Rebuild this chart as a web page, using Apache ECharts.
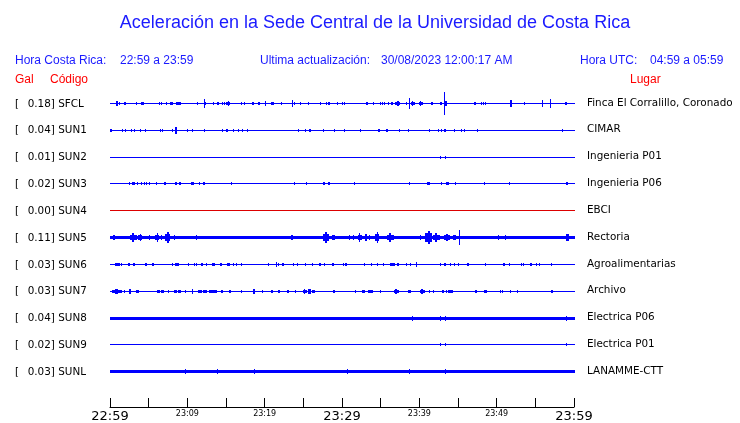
<!DOCTYPE html>
<html><head><meta charset="utf-8">
<script src="https://cdn.jsdelivr.net/npm/echarts@6/dist/echarts.min.js"></script>
<style>html,body{margin:0;padding:0;background:#fff}#c{width:740px;height:423px}</style>
</head><body><div id="c"></div>
<script>
// ---------- data ----------
const codes = ['SFCL','SUN1','SUN2','SUN3','SUN4','SUN5','SUN6','SUN7','SUN8','SUN9','SUNL'];
const places = ['Finca El Corralillo, Coronado','CIMAR','Ingenieria P01','Ingenieria P06','EBCI','Rectoria','Agroalimentarias','Archivo','Electrica P06','Electrica P01','LANAMME-CTT'];
const peakGal = ['0.18','0.04','0.01','0.02','0.00','0.11','0.03','0.03','0.04','0.02','0.03'];
// background noise band (Gal, half width) of each trace
const noiseGal = [0,0,0,0,0,0.02,0,0,0.02,0,0.02];
// x tick labels every 10 minutes starting 22:59
const tickLabels = ['22:59','23:09','23:19','23:29','23:39','23:49','23:59'];
const header = {
  title: 'Aceleración en la Sede Central de la Universidad de Costa Rica',
  crLabel: 'Hora Costa Rica:', crRange: '22:59 a 23:59',
  updLabel: 'Ultima actualización:', updValue: '30/08/2023 12:00:17 AM',
  utcLabel: 'Hora UTC:', utcRange: '04:59 a 05:59',
  gal: 'Gal', code: 'Código', place: 'Lugar'
};
// events: [minutes after 22:59, peak acceleration (Gal), duration (minutes)]
const sfcl = [[0.87,0.03,0.3],[1.29,0.02,0.13],[1.94,0.02,0.2],[3.45,0.02,0.13],[4.2,0.025,0.4],[6.38,0.02,0.13],[6.68,0.015,0.13],[7.33,0.02,0.13],[7.98,0.025,0.45],[8.84,0.025,0.7],[11.34,0.02,0.13],[12.19,0.07,0.13],[12.41,0.02,0.13],[13.36,0.02,0.13],[14.05,0.025,0.3],[14.52,0.015,0.13],[14.78,0.015,0.13],[15.26,0.03,0.52],[17.03,0.02,0.13],[17.37,0.02,0.13],[18.53,0.025,0.3],[19.27,0.025,0.3],[20.09,0.03,0.13],[20.99,0.025,0.4],[22.2,0.015,0.13],[23.58,0.045,0.13],[23.84,0.015,0.13],[24.66,0.02,0.13],[25.73,0.015,0.13],[27.16,0.02,0.13],[28.02,0.015,0.13],[28.32,0.025,0.3],[29.44,0.02,0.13],[30.09,0.02,0.13],[30.30,0.02,0.13],
  [33.3,0.025,0.3],[34.05,0.015,0.13],[35.0,0.02,0.13],[35.26,0.02,0.13],[35.56,0.02,0.13],[36.03,0.02,0.13],[36.47,0.02,0.2],[37.2,0.03,0.7],[38.37,0.02,0.13],[38.7,0.075,0.13],[39.18,0.04,0.52],[40.2,0.04,0.5],[41.72,0.025,0.3],[42.76,0.025,0.3],[43.23,0.18,0.13],[43.45,0.04,0.3],[47.2,0.025,0.3],[48.07,0.02,0.13],[48.27,0.02,0.13],[48.53,0.02,0.13],[51.81,0.045,0.3],[53.57,0.015,0.13],[55.9,0.055,0.13],[56.94,0.07,0.13],[58.97,0.025,0.3]];
const sun1 = [[0.09,0.025,0.3],[1.59,0.02,0.13],[2.03,0.02,0.13],[2.81,0.02,0.13],[3.23,0.015,0.13],[3.97,0.02,0.13],[4.62,0.02,0.13],[6.47,0.02,0.13],[6.77,0.02,0.13],[8.1,0.015,0.13],[8.53,0.045,0.3],[10.04,0.02,0.13],[10.64,0.02,0.13],[12.28,0.015,0.13],[14.52,0.02,0.13],[15.13,0.025,0.3],[15.99,0.015,0.13],[16.59,0.02,0.13],[17.16,0.02,0.13],[17.8,0.015,0.13],[24.35,0.02,0.13],[25.26,0.02,0.13],[25.82,0.025,0.3],[27.58,0.02,0.13],[29.0,0.015,0.13],[30.3,0.015,0.13],[32.42,0.02,0.13],[34.78,0.025,0.3],[35.82,0.025,0.3],[37.41,0.015,0.13],[38.57,0.02,0.13],[41.29,0.015,0.13],[42.49,0.02,0.13],[42.88,0.02,0.13],[43.32,0.025,0.3],[44.52,0.015,0.13],[45.48,0.02,0.13],[45.82,0.02,0.13],[47.5,0.02,0.13],[58.49,0.02,0.13]];
const sun2 = [[42.80,0.015,0.13],[43.41,0.015,0.13]];
const sun3 = [[2.50,0.015,0.13],[3.01,0.025,0.45],[3.58,0.02,0.13],[4.10,0.015,0.13],[4.44,0.015,0.13],[4.75,0.015,0.13],[5.17,0.015,0.13],[6.04,0.015,0.13],[7.10,0.02,0.3],[8.59,0.02,0.3],[9.05,0.02,0.3],[10.71,0.02,0.35],[11.55,0.015,0.13],[12.19,0.02,0.3],[15.74,0.015,0.13],[23.83,0.015,0.13],[25.43,0.015,0.13],[27.58,0.015,0.13],[27.80,0.015,0.13],[28.23,0.02,0.2],[31.59,0.015,0.13],[38.79,0.015,0.13],[41.16,0.02,0.4],[42.88,0.015,0.13],[43.60,0.02,0.35],[44.74,0.015,0.13],[48.40,0.015,0.13],[51.72,0.015,0.13],[59.06,0.02,0.3]];
const sun4 = [];
const sun5 = [[0.56,0.035,0.3],[3.0,0.065,0.86],[3.92,0.045,0.5],[5.08,0.03,0.13],[6.08,0.065,0.5],[6.6,0.03,0.13],[7.44,0.08,0.65],[8.28,0.03,0.13],[11.21,0.03,0.13],[17.03,0.025,0.13],[17.68,0.025,0.13],[21.76,0.025,0.13],[23.5,0.04,0.86],[27.95,0.08,0.74],[28.9,0.03,0.43],[31.03,0.03,0.13],[31.46,0.03,0.13],[32.3,0.065,0.57],[33.1,0.045,0.2],[33.6,0.03,0.13],[34.6,0.08,0.56],[36.2,0.065,0.86],[40.2,0.03,0.13],[41.2,0.095,0.86],[42.2,0.06,0.86],[43.6,0.045,0.77],[44.6,0.035,0.45],[45.17,0.11,0.13],[46.55,0.025,0.13],[50.21,0.03,0.13],[51.08,0.03,0.13],[57.6,0.025,0.86],[59.2,0.05,0.43]];
const sun6 = [[0.97,0.025,0.6],[1.51,0.02,0.13],[2.46,0.02,0.2],[3.1,0.02,0.2],[4.62,0.02,0.3],[5.6,0.02,0.3],[8.1,0.015,0.13],[8.66,0.025,0.5],[10.13,0.02,0.13],[10.9,0.02,0.13],[11.2,0.02,0.13],[11.86,0.025,0.3],[12.5,0.02,0.13],[13.23,0.02,0.2],[13.49,0.025,0.13],[14.35,0.02,0.2],[15.39,0.025,0.4],[15.94,0.02,0.13],[16.38,0.02,0.13],[16.94,0.02,0.13],[20.47,0.02,0.13],[21.47,0.03,0.13],[21.76,0.015,0.13],[22.41,0.025,0.3],[23.7,0.02,0.13],[24.22,0.02,0.13],[25.31,0.02,0.13],[26.16,0.02,0.13],[27.16,0.025,0.3],[27.8,0.015,0.13],[28.88,0.025,0.3],[30.17,0.02,0.13],[30.52,0.025,0.3],[32.85,0.02,0.13],[33.84,0.02,0.13],[34.57,0.02,0.13],[35.34,0.02,0.13],[36.5,0.025,0.65],[37.28,0.025,0.3],[38.37,0.02,0.13],[38.92,0.02,0.13],[39.65,0.035,0.13],[42.8,0.02,0.13],[43.32,0.025,0.3],[43.97,0.025,0.13],[44.6,0.02,0.13],[45.04,0.02,0.13],[46.26,0.025,0.3],[48.58,0.02,0.13],[50.99,0.025,0.3],[51.63,0.02,0.13],[53.15,0.02,0.13],[53.45,0.02,0.13],[54.44,0.025,0.3],[55.09,0.02,0.13],[55.6,0.015,0.13],[57.03,0.02,0.13]];
const sun7 = [[0.86,0.035,1.3],[1.85,0.015,0.13],[2.63,0.035,0.3],[3.6,0.025,0.4],[6.25,0.025,0.4],[6.8,0.025,0.4],[7.55,0.02,0.13],[8.4,0.025,0.35],[9.0,0.025,0.4],[9.7,0.015,0.13],[10.64,0.03,0.13],[11.6,0.025,0.5],[12.3,0.025,0.5],[13.0,0.025,0.5],[13.6,0.025,0.5],[14.44,0.025,0.3],[15.52,0.025,0.3],[17.03,0.015,0.13],[18.62,0.035,0.3],[19.74,0.015,0.13],[20.91,0.025,0.3],[21.85,0.025,0.3],[23.06,0.025,0.3],[24.01,0.015,0.13],[25.2,0.03,0.5],[25.75,0.035,0.4],[26.3,0.025,0.4],[29.0,0.025,0.3],[31.81,0.015,0.13],[32.76,0.025,0.45],[33.72,0.025,0.65],[35.04,0.02,0.13],[37.0,0.04,0.65],[38.79,0.025,0.45],[40.4,0.03,0.65],[41.29,0.02,0.13],[41.81,0.02,0.13],[43.05,0.02,0.3],[43.45,0.02,0.13],[44.07,0.025,0.65],[47.41,0.025,0.3],[48.59,0.025,0.45],[50.52,0.02,0.13],[50.73,0.02,0.13],[51.85,0.02,0.13],[52.72,0.02,0.13],[57.12,0.025,0.3]];
const sun8 = [[39.09,0.035,0.13],[42.80,0.04,0.13],[43.41,0.04,0.13],[59.06,0.04,0.13]];
const sun9 = [[42.80,0.025,0.13],[43.41,0.025,0.13],[59.06,0.025,0.13]];
const sunl = [[9.70,0.035,0.13],[13.88,0.035,0.13],[18.66,0.035,0.13],[30.73,0.035,0.13],[38.79,0.035,0.13],[43.41,0.035,0.13]];
const traces = [sfcl,sun1,sun2,sun3,sun4,sun5,sun6,sun7,sun8,sun9,sunl];

// ---------- styling ----------
const BLUE = '#0000ff', RED = '#ff0000', HEAD_BLUE = '#1a1aff';
const traceColors = codes.map(c => c === 'SUN4' ? '#dd0000' : BLUE);
const GAL_PX = 64;           // vertical pixels per Gal
const T0 = 0, T1 = 60;       // time window (minutes)
const labelFont = 'DejaVu Sans';
const headFont = '"Liberation Sans", Arial, sans-serif';

const spikeData = [];
traces.forEach((tr, i) => tr.forEach(p => spikeData.push([p[0], i, p[1], p[2]])));
const baseData = noiseGal.map((n, i) => [T0, i, n]);

function halfPx(gal) { return Math.max(0, Math.round(gal * GAL_PX - 0.2)); }
function rectAt(x0, w, yRow, half, color) {
  return { type: 'rect', shape: { x: x0, y: yRow - half, width: w, height: 2 * half + 1 }, style: { fill: color } };
}

const chart = echarts.init(document.getElementById('c'));
const option = {
  animation: false,
  backgroundColor: '#fff',
  grid: { left: 110, right: 166, top: 76, bottom: 14, containLabel: false },
  xAxis: {
    type: 'value', min: T0, max: T1, interval: 5,
    axisLine: { show: true, onZero: false, lineStyle: { color: '#000', width: 1 } },
    axisTick: { show: true, inside: true, length: 9, lineStyle: { color: '#000', width: 1 } },
    splitLine: { show: false },
    axisLabel: {
      margin: 3, showMinLabel: true, showMaxLabel: true,
      formatter: v => {
        if (v % 10 !== 0) return '';
        const lab = tickLabels[v / 10];
        return v % 30 === 0 ? '{big|' + lab + '}' : '{sm|' + lab + '}';
      },
      rich: {
        big: { fontFamily: labelFont, fontSize: 13, color: '#000' },
        sm: { fontFamily: labelFont, fontSize: 8, color: '#000' }
      }
    }
  },
  yAxis: [
    {
      type: 'value', min: -1, max: 34 / 3, inverse: true, interval: 1,
      axisLine: { show: false }, axisTick: { show: false }, splitLine: { show: false },
      axisLabel: {
        align: 'left', margin: 95, showMaxLabel: false, padding: [2, 0, 0, 0],
        formatter: v => (Number.isInteger(v) && v >= 0 && v < codes.length) ? '{a|[}{b|' + peakGal[v] + ']} {c|' + codes[v] + '}' : '',
        rich: {
          a: { fontFamily: labelFont, fontSize: 10.4, color: '#000', width: 12.7 },
          b: { fontFamily: labelFont, fontSize: 10.4, color: '#000' },
          c: { fontFamily: labelFont, fontSize: 10.4, color: '#000' }
        }
      }
    },
    {
      type: 'value', min: -1, max: 34 / 3, inverse: true, interval: 1, position: 'right',
      axisLine: { show: false }, axisTick: { show: false }, splitLine: { show: false },
      axisLabel: {
        align: 'left', margin: 13, showMaxLabel: false, padding: [2, 0, 0, 0],
        formatter: v => (Number.isInteger(v) && v >= 0 && v < places.length) ? places[v] : '',
        fontFamily: labelFont, fontSize: 10.4, color: '#000'
      }
    }
  ],
  series: [
    {
      type: 'custom', name: 'baseline', data: baseData, clip: false,
      encode: { x: 0, y: 1 },
      renderItem: (params, api) => {
        const i = api.value(1);
        const p0 = api.coord([T0, i]), p1 = api.coord([T1, i]);
        const x0 = Math.round(p0[0]);
        return rectAt(x0, Math.round(p1[0]) + 1 - x0, Math.round(p0[1]), halfPx(api.value(2)), traceColors[i]);
      }
    },
    {
      type: 'custom', name: 'events', data: spikeData, clip: false,
      encode: { x: 0, y: 1 },
      renderItem: (params, api) => {
        const t = api.value(0), i = api.value(1), g = api.value(2), d = api.value(3);
        const p0 = api.coord([t - d / 2, i]), p1 = api.coord([t + d / 2, i]);
        const pc = api.coord([t, i]);
        const x0 = Math.round(p0[0]);
        const w = Math.max(1, Math.round(p1[0] - p0[0]));
        const yRow = Math.round(pc[1]);
        const h = Math.max(1, halfPx(g));
        if (w < 4) return rectAt(x0, w, yRow, h, traceColors[i]);
        // burst: wide body plus taller core
        const body = Math.max(1, Math.round(h * 0.6));
        const cw = Math.max(1, Math.round(w / 3));
        return { type: 'group', children: [
          rectAt(x0, w, yRow, body, traceColors[i]),
          rectAt(Math.round(pc[0] - cw / 2), cw, yRow, h, traceColors[i])
        ] };
      }
    }
  ],
  graphic: [
    { type: 'text', x: 375, y: 23, style: { text: header.title, font: '18px ' + headFont, fill: HEAD_BLUE, align: 'center', verticalAlign: 'middle' } },
    { type: 'text', x: 15, y: 61, style: { text: header.crLabel, font: '12px ' + headFont, fill: HEAD_BLUE, verticalAlign: 'middle' } },
    { type: 'text', x: 120, y: 61, style: { text: header.crRange, font: '12px ' + headFont, fill: HEAD_BLUE, verticalAlign: 'middle' } },
    { type: 'text', x: 260, y: 61, style: { text: header.updLabel, font: '12px ' + headFont, fill: HEAD_BLUE, verticalAlign: 'middle' } },
    { type: 'text', x: 381, y: 61, style: { text: header.updValue, font: '12px ' + headFont, fill: HEAD_BLUE, verticalAlign: 'middle' } },
    { type: 'text', x: 580, y: 61, style: { text: header.utcLabel, font: '12px ' + headFont, fill: HEAD_BLUE, verticalAlign: 'middle' } },
    { type: 'text', x: 650, y: 61, style: { text: header.utcRange, font: '12px ' + headFont, fill: HEAD_BLUE, verticalAlign: 'middle' } },
    { type: 'text', x: 15, y: 80, style: { text: header.gal, font: '12px ' + headFont, fill: RED, verticalAlign: 'middle' } },
    { type: 'text', x: 50, y: 80, style: { text: header.code, font: '12px ' + headFont, fill: RED, verticalAlign: 'middle' } },
    { type: 'text', x: 630, y: 80, style: { text: header.place, font: '12px ' + headFont, fill: RED, verticalAlign: 'middle' } }
  ]
};
chart.setOption(option);
</script>
</body></html>
